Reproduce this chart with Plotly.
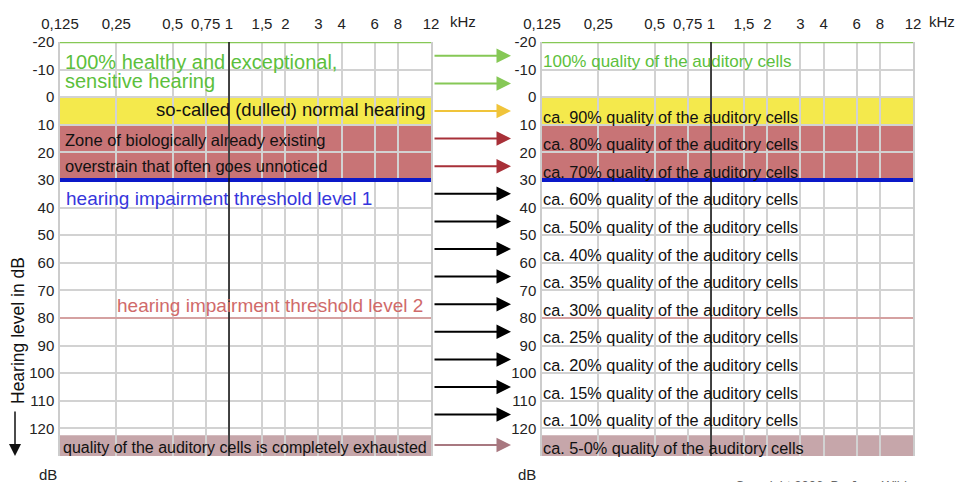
import math
import plotly.graph_objects as go

# ---------------- data ----------------
freq_ticks = [0.125, 0.25, 0.5, 0.75, 1, 1.5, 2, 3, 4, 6, 8, 12]
freq_labels = ["0,125", "0,25", "0,5", "0,75", "1", "1,5", "2", "3", "4", "6", "8", "12"]
db_ticks = [-20, -10, 0, 10, 20, 30, 40, 50, 60, 70, 80, 90, 100, 110, 120]
db_labels = ["-20", "-10", "0", "10", "20", "30", "40", "50", "60", "70", "80", "90", "100", "110", "120"]
db_min, db_max = -20, 130

normal_zone = [0, 10]
overstrain_zone = [10, 30]
exhausted_zone = [122.5, 130]
threshold_level_1 = 30
threshold_level_2 = 80
ref_freq = 1

quality_labels = [
    "100% quality of the auditory cells",
    "ca. 90% quality of the auditory cells",
    "ca. 80% quality of the auditory cells",
    "ca. 70% quality of the auditory cells",
    "ca. 60% quality of the auditory cells",
    "ca. 50% quality of the auditory cells",
    "ca. 40% quality of the auditory cells",
    "ca. 35% quality of the auditory cells",
    "ca. 30% quality of the auditory cells",
    "ca. 25% quality of the auditory cells",
    "ca. 20% quality of the auditory cells",
    "ca. 15% quality of the auditory cells",
    "ca. 10% quality of the auditory cells",
    "ca. 5-0% quality of the auditory cells",
]
quality_db = [-13, 7, 17, 27, 37, 47, 57, 67, 77, 87, 97, 107, 117, 127]
quality_colors = ["#5cbf3c"] + ["#111111"] * 13

arrow_db = [-15, -5, 5, 15, 25, 35, 45, 55, 65, 75, 85, 95, 105, 115, 126]
arrow_colors = ["#86c856", "#86c856", "#f0c43a", "#a83038", "#a83038"] + ["#000000"] * 9 + ["#a87880"]

# ---------------- figure ----------------
W, H = 960, 482
FONT = "Liberation Sans, Arial, sans-serif"

def px_x(p):
    return p / W

def px_y(p):
    return 1 - p / H

xdom1 = [px_x(60), px_x(431)]
xdom2 = [px_x(542), px_x(913)]
ydom = [px_y(456), px_y(42)]

fig = go.Figure()

shapes = []
annotations = []

for xa, ya in (("x", "y"), ("x2", "y2")):
    # zone bands (below gridlines)
    for zone, col in ((normal_zone, "#f4e94c"), (overstrain_zone, "#c87476"), (exhausted_zone, "#c6a6aa")):
        shapes.append(dict(type="rect", xref=xa + " domain", yref=ya, x0=0, x1=1,
                           y0=zone[0], y1=zone[1], fillcolor=col, line_width=0, layer="below"))
    # threshold lines and reference frequency line
    fig.add_trace(go.Scatter(x=[freq_ticks[0], freq_ticks[-1]], y=[threshold_level_2] * 2, mode="lines",
                             line=dict(color="#d87070", width=1.2), xaxis=xa, yaxis=ya,
                             showlegend=False, hoverinfo="skip"))
    fig.add_trace(go.Scatter(x=[freq_ticks[0], freq_ticks[-1]], y=[threshold_level_1] * 2, mode="lines",
                             line=dict(color="#0a18c8", width=4), xaxis=xa, yaxis=ya,
                             showlegend=False, hoverinfo="skip"))
    fig.add_trace(go.Scatter(x=[freq_ticks[0], freq_ticks[-1]], y=[db_min] * 2, mode="lines",
                             line=dict(color="#86c856", width=2.5), xaxis=xa, yaxis=ya,
                             showlegend=False, hoverinfo="skip"))
    fig.add_trace(go.Scatter(x=[ref_freq, ref_freq], y=[db_min, db_max], mode="lines",
                             line=dict(color="#111111", width=1.5), xaxis=xa, yaxis=ya,
                             showlegend=False, hoverinfo="skip"))

# ---- left panel texts ----
left_texts = [
    ("100% healthy and exceptional,", -12.7, 0.008, "left", "#5cbf3c", 20),
    ("sensitive hearing", -5.8, 0.008, "left", "#5cbf3c", 20),
    ("so-called (dulled) normal hearing", 4.3, 0.988, "right", "#111111", 18.5),
    ("Zone of biologically already existing", 15.6, 0.008, "left", "#111111", 16.5),
    ("overstrain that often goes unnoticed", 25.0, 0.008, "left", "#111111", 16.5),
    ("hearing impairment threshold level 1", 36.6, 0.010, "left", "#3636dc", 19),
    ("hearing impairment threshold level 2", 75.4, 0.983, "right", "#d06a6a", 19),
    ("quality of the auditory cells is completely exhausted", 126.8, 0.004, "left", "#111111", 16),
]
for txt, yv, xv, anc, col, fs in left_texts:
    annotations.append(dict(text=txt, xref="x domain", yref="y", x=xv, y=yv, xanchor=anc,
                            yanchor="middle", showarrow=False, font=dict(family=FONT, size=fs, color=col)))

# ---- right panel texts ----
for txt, yv, col in zip(quality_labels, quality_db, quality_colors):
    fs = 17 if txt.startswith("100%") else 16.3
    annotations.append(dict(text=txt, xref="x2 domain", yref="y2", x=-0.004, y=yv, xanchor="left",
                            yanchor="middle", showarrow=False, font=dict(family=FONT, size=fs, color=col)))

# ---- arrows between panels ----
for yv, col in zip(arrow_db, arrow_colors):
    annotations.append(dict(text="", xref="paper", yref="y", x=px_x(511), y=yv, ax=-78, ay=0,
                            axref="pixel", ayref="pixel", showarrow=True, arrowhead=2, arrowsize=1.45,
                            arrowwidth=2, arrowcolor=col, standoff=0))

# ---- extra labels ----
for xp in (463, 942):
    annotations.append(dict(text="kHz", xref="paper", yref="paper", x=px_x(xp), y=px_y(22),
                            xanchor="center", yanchor="middle", showarrow=False,
                            font=dict(family=FONT, size=15, color="#222222")))
for xp in (48, 527):
    annotations.append(dict(text="dB", xref="paper", yref="paper", x=px_x(xp), y=px_y(474),
                            xanchor="center", yanchor="middle", showarrow=False,
                            font=dict(family=FONT, size=15, color="#222222")))
annotations.append(dict(text="Hearing level in dB", xref="paper", yref="paper", x=px_x(18), y=px_y(331),
                        xanchor="center", yanchor="middle", textangle=-90, showarrow=False,
                        font=dict(family=FONT, size=17.5, color="#111111")))
annotations.append(dict(text="", xref="paper", yref="paper", x=px_x(15), y=px_y(456), ax=0, ay=-46,
                        showarrow=True, arrowhead=2, arrowsize=1.6, arrowwidth=1.5, arrowcolor="#111111",
                        standoff=0))
annotations.append(dict(text="Copyright 2006, Dr. Jens Wild", xref="paper", yref="paper", x=px_x(733),
                        y=px_y(476), xanchor="left", yanchor="top", showarrow=False,
                        font=dict(family=FONT, size=13, color="#666666")))

xaxis_common = dict(type="log", range=[math.log10(freq_ticks[0]), math.log10(freq_ticks[-1])],
                    tickvals=freq_ticks, ticktext=freq_labels, side="top", showgrid=True,
                    gridcolor="#d2d2d2", gridwidth=1.6, zeroline=False, showline=False, ticks="",
                    ticklabelstandoff=9, automargin=False,
                    tickfont=dict(family=FONT, size=15, color="#222222"))
yaxis_common = dict(range=[db_max, db_min], tickvals=db_ticks, ticktext=db_labels, showgrid=True,
                    gridcolor="#d2d2d2", gridwidth=1.6, zeroline=False, showline=True,
                    linecolor="#cccccc", linewidth=1.5, mirror=True, ticks="", ticklabelstandoff=1,
                    automargin=False, tickfont=dict(family=FONT, size=15, color="#222222"))

fig.update_layout(
    width=W, height=H, margin=dict(l=0, r=0, t=0, b=0, autoexpand=False),
    paper_bgcolor="white", plot_bgcolor="white", showlegend=False,
    xaxis=dict(domain=xdom1, anchor="y", **xaxis_common),
    xaxis2=dict(domain=xdom2, anchor="y2", **xaxis_common),
    yaxis=dict(domain=ydom, anchor="x", **yaxis_common),
    yaxis2=dict(domain=ydom, anchor="x2", **yaxis_common),
    shapes=shapes, annotations=annotations,
)

fig.write_html("out.html", config={"displayModeBar": False},
               post_script="document.body.style.margin='0';document.body.style.overflow='hidden';")
